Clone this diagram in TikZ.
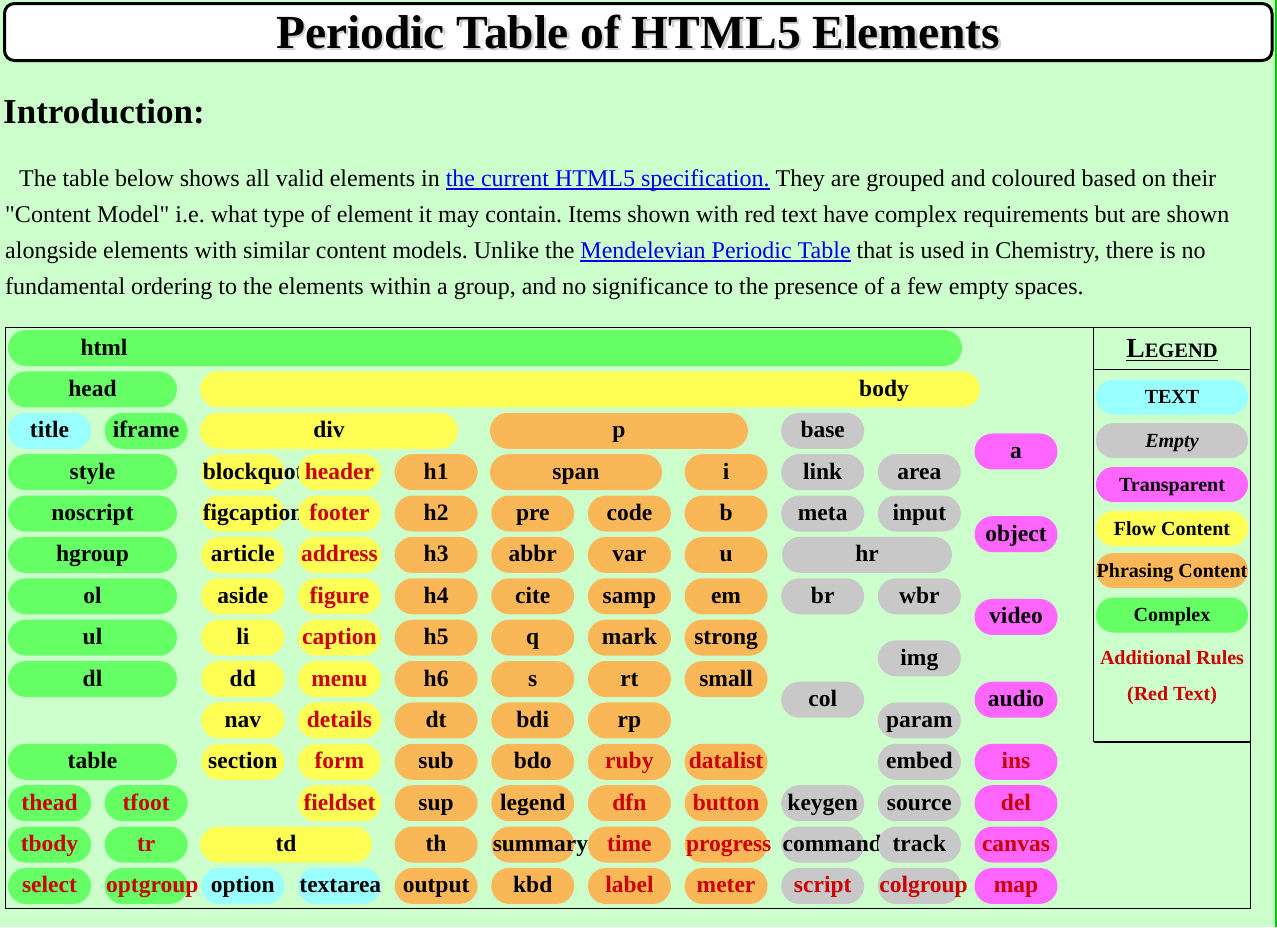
\documentclass[tikz,border=0pt]{standalone}
\usepackage{fontspec}
\setmainfont{Liberation Serif}[Ligatures=TeXOff]
\usepackage{xcolor}
\usepackage{tikz}

\definecolor{pagebg}{HTML}{CCFFCC}
\definecolor{edgegrn}{HTML}{00CC00}
\definecolor{cplx}{HTML}{66FF66}
\definecolor{flow}{HTML}{FFFF55}
\definecolor{phrs}{HTML}{F9B757}
\definecolor{empt}{HTML}{C8C8C8}
\definecolor{txtc}{HTML}{99FFFF}
\definecolor{trns}{HTML}{FF66FF}
\definecolor{rule}{HTML}{CC0000}
\definecolor{linkc}{HTML}{0000EE}

% underlined link text
\newcommand{\linkul}[1]{{\color{linkc}\setbox0\hbox{#1}\rlap{\rule[-3pt]{\wd0}{1.3pt}}\box0}}
% tag text: centred, or running out to the right when too long
\newcommand{\tagtxt}[1]{\setbox0\hbox{#1}%
  \ifdim\wd0>80pt\makebox[0pt][l]{\hspace*{-40pt}\box0}\else\makebox[0pt]{\box0}\fi}

\begin{document}
\frenchspacing
\begin{tikzpicture}[x=1pt, y=-1pt,
  pill/.style={rectangle, rounded corners=18pt, minimum width=83pt, minimum height=36pt,
    inner sep=0pt, text height=19pt, text depth=5pt, font=\fontsize{23.5}{28}\selectfont\bfseries},
  pilltxt/.style={inner sep=0pt, text height=19pt, text depth=5pt, font=\fontsize{23.5}{28}\selectfont\bfseries},
  keypill/.style={rectangle, rounded corners=17.5pt, minimum width=152pt, minimum height=35pt,
    inner sep=0pt, text height=17pt, text depth=4pt, font=\fontsize{20}{24}\selectfont\bfseries},
  paraline/.style={anchor=base west, inner sep=0pt, font=\fontsize{24}{29}\selectfont}]
  \useasboundingbox (0,0) rectangle (1277,927);

  % Page
  \fill[pagebg] (0,0) rectangle (1277,927);
  \fill[edgegrn] (1275,0) rectangle (1277,927);

  % Title bar
  \draw[line width=3pt, rounded corners=10pt, fill=white] (4.5,3.5) rectangle (1272,60.5);
  \node[anchor=base, inner sep=0pt, text=black!60, opacity=0.3,
    font=\fontsize{47.5}{55}\selectfont\bfseries] (titleshade) at (640.5,50.5) {Periodic Table of HTML5 Elements};
  \node[anchor=base, inner sep=0pt, font=\fontsize{47.5}{55}\selectfont\bfseries] (title) at (638,48)
    {Periodic Table of HTML5 Elements};

  % Introduction
  \node[anchor=base west, inner sep=0pt, font=\fontsize{35}{42}\selectfont\bfseries] (intro) at (3,123) {Introduction:};
  \node[paraline] (line1) at (19,186.5) {The table below shows all valid elements in
    \linkul{the current HTML5 specification.} They are grouped and coloured based on their};
  \node[paraline] (line2) at (5,222.5) {"Content Model" i.e. what type of element it may contain.
    Items shown with red text have complex requirements but are shown};
  \node[paraline] (line3) at (5,258.5) {alongside elements with similar content models. Unlike the
    \linkul{Mendelevian Periodic Table} that is used in Chemistry, there is no};
  \node[paraline] (line4) at (5,294.5) {fundamental ordering to the elements within a group,
    and no significance to the presence of a few empty spaces.};

  % Table frame
  \draw[line width=1pt] (5.5,327.5) rectangle (1250.5,908.5);
  \draw[line width=1pt] (1093.5,327.5) -- (1093.5,742);
  \draw[line width=1pt] (1093.5,369.5) -- (1250.5,369.5);
  \draw[line width=1.6pt] (1093.5,742) -- (1250.5,742);

  % Complex (wide)
  \node[pill, fill=cplx, minimum width=954pt] (html) at (485,348) {};
  \node[pilltxt] (htmltag) at (104,348) {html};
  \foreach \nm/\r in {head/1, style/3, noscript/4, hgroup/5, ol/6, ul/7, dl/8, table/10}
    \node[pill, fill=cplx, minimum width=169pt] (\nm) at (92.5,{348+41.38*\r}) {\makebox[0pt]{\nm}};
  % Complex
  \foreach \nm/\c/\r/\k in {iframe/1/2/black, thead/0/11/rule, tfoot/1/11/rule, tbody/0/12/rule,
      tr/1/12/rule, select/0/13/rule, optgroup/1/13/rule}
    \node[pill, fill=cplx, text=\k] (\nm) at ({49.5+96.65*\c},{348+41.38*\r}) {\tagtxt{\nm}};

  % Text
  \foreach \nm/\c/\r in {title/0/2, option/2/13, textarea/3/13}
    \node[pill, fill=txtc] (\nm) at ({49.5+96.65*\c},{348+41.38*\r}) {\tagtxt{\nm}};

  % Flow content
  \node[pill, fill=flow, minimum width=780pt] (body) at (590,389.4) {};
  \node[pilltxt] (bodytag) at (884,389.4) {body};
  \node[pill, fill=flow, minimum width=258pt] (div) at (329,430.8) {\makebox[0pt]{div}};
  \node[pill, fill=flow, minimum width=172pt] (td) at (286,844.6) {\makebox[0pt]{td}};
  \foreach \nm/\c/\r/\k in {blockquote/2/3/black, header/3/3/rule, figcaption/2/4/black, footer/3/4/rule,
      article/2/5/black, address/3/5/rule, aside/2/6/black, figure/3/6/rule, li/2/7/black,
      caption/3/7/rule, dd/2/8/black, menu/3/8/rule, nav/2/9/black, details/3/9/rule,
      section/2/10/black, form/3/10/rule, fieldset/3/11/rule}
    \node[pill, fill=flow, text=\k] (\nm) at ({49.5+96.65*\c},{348+41.38*\r}) {\tagtxt{\nm}};

  % Phrasing content
  \node[pill, fill=phrs, minimum width=258pt] (p) at (619,430.8) {\makebox[0pt]{p}};
  \node[pill, fill=phrs, minimum width=172pt] (span) at (576,472.2) {\makebox[0pt]{span}};
  \foreach \nm/\c/\r/\k in {h1/4/3/black, h2/4/4/black, h3/4/5/black, h4/4/6/black, h5/4/7/black,
      h6/4/8/black, dt/4/9/black, sub/4/10/black, sup/4/11/black, th/4/12/black, output/4/13/black,
      pre/5/4/black, abbr/5/5/black, cite/5/6/black, q/5/7/black, s/5/8/black, bdi/5/9/black,
      bdo/5/10/black, legend/5/11/black, summary/5/12/black, kbd/5/13/black,
      code/6/4/black, var/6/5/black, samp/6/6/black, mark/6/7/black, rt/6/8/black, rp/6/9/black,
      ruby/6/10/rule, dfn/6/11/rule, time/6/12/rule, label/6/13/rule,
      i/7/3/black, b/7/4/black, u/7/5/black, em/7/6/black, strong/7/7/black, small/7/8/black,
      datalist/7/10/rule, button/7/11/rule, progress/7/12/rule, meter/7/13/rule}
    \node[pill, fill=phrs, text=\k] (\nm) at ({49.5+96.65*\c},{348+41.38*\r}) {\tagtxt{\nm}};

  % Empty
  \node[pill, fill=empt, minimum width=170pt] (hr) at (867,554.9) {\makebox[0pt]{hr}};
  \foreach \nm/\c/\r/\k in {base/8/2/black, link/8/3/black, area/9/3/black, meta/8/4/black,
      input/9/4/black, br/8/6/black, wbr/9/6/black, img/9/7.5/black, col/8/8.5/black,
      param/9/9/black, embed/9/10/black, keygen/8/11/black, source/9/11/black,
      command/8/12/black, track/9/12/black, script/8/13/rule, colgroup/9/13/rule}
    \node[pill, fill=empt, text=\k] (\nm) at ({49.5+96.65*\c},{348+41.38*\r}) {\tagtxt{\nm}};

  % Transparent
  \foreach \nm/\r/\k in {a/2.5/black, object/4.5/black, video/6.5/black, audio/8.5/black,
      ins/10/rule, del/11/rule, canvas/12/rule, map/13/rule}
    \node[pill, fill=trns, text=\k] (\nm) at (1016,{348+41.38*\r}) {\tagtxt{\nm}};

  % Legend
  \node[anchor=base, inner sep=0pt, font=\bfseries] (lgd) at (1172,357)
    {{\fontsize{27.6}{30}\selectfont L}{\fontsize{20.5}{24}\selectfont EGEND}};
  \draw[line width=1.8pt] ([yshift=-3.5pt]lgd.base west) -- ([yshift=-3.5pt]lgd.base east);
  \node[keypill, fill=txtc] (keytext) at (1172,397) {TEXT};
  \node[keypill, fill=empt, font=\fontsize{20}{24}\selectfont\bfseries\itshape] (keyempty) at (1172,440.5) {Empty};
  \node[keypill, fill=trns] (keytrans) at (1172,484.5) {Transparent};
  \node[keypill, fill=flow] (keyflow) at (1172,528.5) {Flow Content};
  \node[keypill, fill=phrs] (keyphrase) at (1172,570.5) {Phrasing Content};
  \node[keypill, fill=cplx] (keycplx) at (1172,615) {Complex};
  \node[keypill, text=rule] (keyrules) at (1172,658) {Additional Rules};
  \node[keypill, text=rule] (keyred) at (1172,694) {(Red Text)};
\end{tikzpicture}
\end{document}
